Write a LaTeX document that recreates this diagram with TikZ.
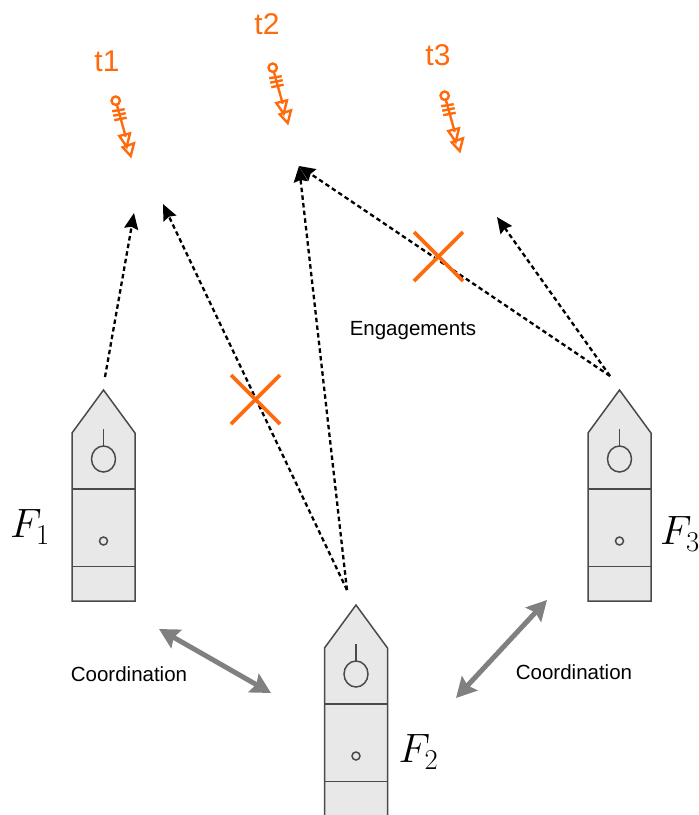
\RequirePackage{fix-cm}
\documentclass[tikz,border=0pt]{standalone}
\usepackage{fontspec}
\setmainfont{Liberation Sans}
\usepackage{amsmath}
\usetikzlibrary{arrows.meta}
\definecolor{shipfill}{HTML}{E8E8E8}
\definecolor{shipline}{HTML}{4A4A4A}
\definecolor{threat}{HTML}{FF6A0D}
\definecolor{coord}{HTML}{808080}
\tikzset{
  x=1pt,y=-1pt,
  shipline/.style={draw=shipline,line width=1.5pt},
  engage/.style={draw=black,line width=2.3pt,dash pattern=on 4.5pt off 3.2pt,-{Stealth[length=16pt,width=14pt,inset=2pt]}},
  coordarrow/.style={draw=coord,line width=5pt,{Stealth[length=20pt,width=21pt,inset=3pt]}-{Stealth[length=20pt,width=21pt,inset=3pt]}},
  crossmark/.style={draw=threat,line width=3.6pt},
  threatline/.style={draw=threat,line width=2.4pt},
  threatlabel/.style={text=threat,font=\fontsize{30}{32}\selectfont},
  note/.style={text=black,font=\fontsize{20.5}{22}\selectfont},
  shiplabel/.style={text=black,font=\fontsize{41}{46}\selectfont},
  ship/.pic={
    \path[shipline,fill=shipfill] (-31.5,211) -- (-31.5,43) -- (0,0) -- (31.5,43) -- (31.5,211) -- cycle;
    \draw[shipline] (-31.5,99) -- (31.5,99);
    \draw[shipline] (-31.5,176.5) -- (31.5,176.5);
    \draw[shipline] (0,39) -- (0,56.5);
    \draw[shipline] (0,69) ellipse [x radius=12,y radius=13];
    \draw[shipline] (0,151) circle [radius=4];
  },
  missile/.pic={
    \draw[threatline] (0,0) circle [radius=4.2];
    \draw[threatline] (1.2,4.2) -- (10,36);
    \draw[threatline] (-3.5,10.5) -- (9,8.5);
    \draw[threatline] (-2.5,15) -- (10,12.5);
    \draw[threatline] (-1.5,19.5) -- (11,17);
    \draw[threatline,line join=miter] (3.6,35.3) -- (14.3,32.6) -- (11,46) -- cycle;
    \draw[threatline,line join=miter] (7,46.6) -- (18.3,42.6) -- (15,55.3) -- cycle;
  }
}
\begin{document}
\begin{tikzpicture}
\useasboundingbox (0,0) rectangle (699,815);
\begin{scope}
\clip (0,0) rectangle (699,815);
\pic at (103.5,390) {ship};
\pic at (619.5,390) {ship};
\pic at (356,605) {ship};
\end{scope}
\pic at (115.7,100.7) {missile};
\pic at (272.7,67.7) {missile};
\pic at (444.7,95.7) {missile};
\node[threatlabel] (t1) at (107,61) {t1};
\node[threatlabel] (t2) at (267,24) {t2};
\node[threatlabel] (t3) at (438,55) {t3};
\node[shiplabel] (f1) at (30,527) {$F_1$};
\node[shiplabel] (f3) at (680,534) {$F_3$};
\node[shiplabel] (f2) at (418.5,752) {$F_2$};
\node[note] (eng) at (413,331) {Engagements};
\node[note] (c1) at (129,674) {Coordination};
\node[note] (c2) at (574,672) {Coordination};
\coordinate (s1) at (105,377);
\coordinate (s2) at (347,590);
\coordinate (s3) at (610,376);
\coordinate (e1) at (134,213);
\coordinate (e2) at (163,204);
\coordinate (e3) at (299,166);
\coordinate (e4) at (497,217);
\draw[engage] (s1) -- (e1);
\draw[engage] (s2) -- (e2);
\draw[engage] (s2) -- (e3);
\draw[engage] (s3) -- (e3);
\draw[engage] (s3) -- (e4);
\coordinate (a1) at (159,629);
\coordinate (a2) at (271,693);
\coordinate (b1) at (547,600);
\coordinate (b2) at (456,698);
\draw[coordarrow] (a1) -- (a2);
\draw[coordarrow] (b1) -- (b2);
\coordinate (x1) at (231,375);
\coordinate (x2) at (280,424);
\coordinate (x3) at (280,375);
\coordinate (x4) at (231,424);
\coordinate (y1) at (414,232);
\coordinate (y2) at (463,281);
\coordinate (y3) at (463,232);
\coordinate (y4) at (414,281);
\draw[crossmark] (x1) -- (x2);
\draw[crossmark] (x3) -- (x4);
\draw[crossmark] (y1) -- (y2);
\draw[crossmark] (y3) -- (y4);
\end{tikzpicture}
\end{document}
